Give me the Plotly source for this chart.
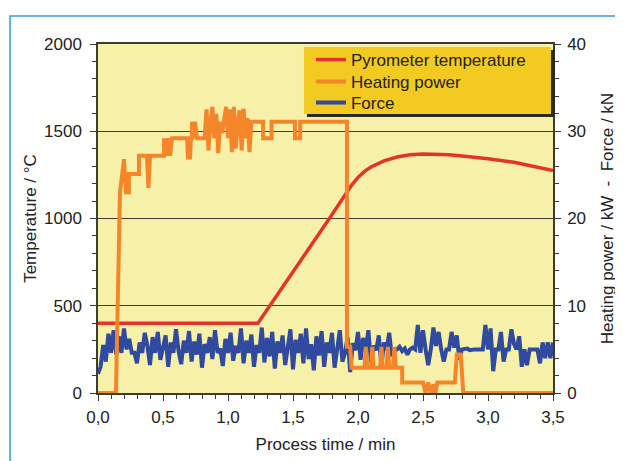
import plotly.graph_objects as go

# ---------------- data ----------------
# Pyrometer temperature (°C), left axis
temp_time = [0.0, 1.23, 1.78, 1.90, 1.95, 2.00, 2.05, 2.10, 2.20, 2.30, 2.40, 2.50,
             2.60, 2.70, 2.80, 3.00, 3.20, 3.40, 3.50]
temp_values = [400, 400, 1000, 1135, 1190, 1235, 1270, 1295, 1330, 1352, 1365, 1370,
               1369, 1365, 1358, 1343, 1322, 1292, 1275]

# Heating power (kW), right axis
power_time = [0.0, 0.138, 0.169, 0.20, 0.215, 0.238, 0.238, 0.315, 0.315, 0.377, 0.388, 0.40,
              0.508, 0.508, 0.523, 0.538, 0.554, 0.569, 0.685, 0.692, 0.708, 0.715, 0.723,
              0.723, 0.738, 0.746, 0.762, 0.82,
              0.835, 0.85, 0.865, 0.88, 0.895, 0.91, 0.925, 0.94, 0.955, 0.97, 0.985, 1.0,
              1.015, 1.03, 1.045, 1.06, 1.075, 1.09, 1.105, 1.12, 1.135, 1.15, 1.165, 1.18,
              1.27, 1.27, 1.335, 1.335, 1.515, 1.515, 1.555, 1.555, 1.915, 1.915, 1.94, 1.95,
              2.05, 2.06, 2.07, 2.10, 2.11, 2.12, 2.17, 2.18, 2.19, 2.22, 2.23, 2.24, 2.27,
              2.28, 2.29, 2.34, 2.34, 2.50, 2.52, 2.54, 2.56, 2.58, 2.595, 2.61, 2.745, 2.76,
              2.79, 2.81, 3.50]
power_values = [0, 0, 23.0, 26.8, 23.0, 23.0, 25.1, 25.1, 27.2, 27.2, 23.5, 27.2,
                27.2, 29.2, 27.2, 29.2, 27.2, 29.2, 29.2, 27.0, 27.0, 29.2, 29.2,
                31.1, 29.2, 31.1, 29.2, 29.2,
                32.5, 27.8, 31.1, 32.8, 29.2, 32.0, 27.5, 31.1, 29.8, 31.1, 32.8, 29.2,
                32.5, 27.6, 32.8, 28.0, 31.1, 32.4, 27.8, 32.6, 29.2, 31.5, 27.6, 31.1,
                31.1, 29.2, 29.2, 31.1, 31.1, 29.2, 29.2, 31.1, 31.1, 5.3, 5.3, 2.9,
                2.9, 5.3, 2.9, 2.9, 5.3, 2.9, 2.9, 5.3, 2.9, 2.9, 5.3, 2.9, 2.9,
                5.3, 2.9, 2.9, 1.2, 1.2, 0, 1.2, 0, 1.0, 0, 1.2, 1.2, 4.4,
                4.4, 0, 0]

# Force (kN), right axis, sampled every 0.02 min
force_step = 0.02
force_values = [
    2.2, 3.0, 5.5, 3.6, 6.8, 4.6, 7.2, 4.4, 6.5, 4.6,
    7.4, 5.0, 6.2, 4.6, 4.6, 3.4, 5.8, 4.6, 6.9, 5.4,
    3.2, 6.4, 4.6, 7.0, 3.8, 5.2, 6.6, 3.0, 5.8, 4.6,
    7.3, 4.8, 3.3, 6.0, 4.6, 7.1, 3.6, 5.9, 4.4, 6.8,
    2.9, 5.6, 4.6, 6.4, 3.9, 7.2, 4.6, 5.1, 3.1, 6.2,
    4.6, 6.9, 3.7, 5.4, 4.6, 7.4, 3.4, 6.0, 4.6, 6.7,
    3.0, 5.5, 4.6, 7.5, 3.5, 6.3, 4.2, 7.0, 2.8, 5.9,
    4.6, 6.6, 3.2, 5.2, 7.3, 2.7, 6.1, 4.6, 6.8, 3.4,
    7.4, 3.9, 5.6, 2.6, 6.5, 4.3, 7.1, 3.0, 5.8, 4.6,
    6.9, 2.9, 5.3, 7.2, 3.6, 4.6, 6.4, 2.4, 5.7, 4.9,
    7.0, 3.8, 6.3, 4.9, 7.2, 3.5, 5.4, 4.9, 6.6, 3.1,
    5.8, 4.9, 6.9, 4.2, 5.0, 5.0, 5.3, 4.8, 5.1, 4.4,
    5.0, 5.2, 5.0, 7.8, 4.6, 7.2, 5.0, 3.2, 5.0, 7.5,
    5.4, 7.0, 5.0, 3.6, 5.0, 5.0, 7.0, 5.2, 6.6, 3.8,
    5.0, 5.0, 5.1, 4.9, 5.0, 5.0, 5.0, 5.0, 5.0, 7.8,
    5.0, 7.4, 2.5, 5.0, 5.0, 7.0, 3.6, 5.0, 5.0, 7.3,
    5.6, 5.0, 6.5, 3.0, 5.0, 3.2, 5.0, 5.0, 5.0, 5.0,
    3.4, 5.8, 4.0, 5.8, 4.0, 5.8,
]
force_time = [round(i * force_step, 2) for i in range(len(force_values))]

# tick labels
x_tickvals = [0.0, 0.5, 1.0, 1.5, 2.0, 2.5, 3.0, 3.5]
x_ticktext = ["0,0", "0,5", "1,0", "1,5", "2,0", "2,5", "3,0", "3,5"]
y_tickvals = [0, 500, 1000, 1500, 2000]
y2_tickvals = [0, 10, 20, 30, 40]

series_names = ["Pyrometer temperature", "Heating power", "Force"]

# ---------------- styling ----------------
RED = "#E4332A"
ORANGE = "#F5852A"
BLUE = "#2F4A9E"
DARK = "#3C3C30"
PLOT_BG = "#F6F0A8"
LEGEND_BG = "#F2CA22"
FRAME = "#3A9AD9"
FONT = "Liberation Sans"
TXT = dict(family=FONT, size=17, color="#222")

fig = go.Figure()
fig.add_trace(go.Scatter(x=force_time, y=force_values, name=series_names[2], yaxis="y2",
                         mode="lines", line=dict(color=BLUE, width=4), legend="legend3"))
fig.add_trace(go.Scatter(x=power_time, y=power_values, name=series_names[1], yaxis="y2",
                         mode="lines", line=dict(color=ORANGE, width=4), legend="legend2"))
fig.add_trace(go.Scatter(x=temp_time, y=temp_values, name=series_names[0], yaxis="y",
                         mode="lines", line=dict(color=RED, width=3.5), legend="legend"))

common_axis = dict(showline=True, linecolor=DARK, linewidth=1.5, ticks="outside",
                   tickcolor=DARK, tickwidth=1.2, ticklen=6, zeroline=False, automargin=False,
                   tickfont=TXT)

legend_common = dict(xanchor="left", yanchor="middle", bgcolor="rgba(0,0,0,0)", borderwidth=0,
                     font=TXT)

fig.update_layout(
    width=623, height=461,
    margin=dict(l=90, r=78, t=36, b=76),
    paper_bgcolor="white", plot_bgcolor=PLOT_BG,
    font=TXT,
    xaxis=dict(range=[0, 3.5], tickvals=x_tickvals, ticktext=x_ticktext, showgrid=False,
               mirror=True, ticklabelstandoff=2,
               minor=dict(dtick=0.1, ticks="outside", ticklen=4, tickcolor=DARK, tickwidth=1.2),
               title=dict(text="Process time / min", standoff=12, font=TXT), **common_axis),
    yaxis=dict(range=[0, 2000], tickvals=y_tickvals, showgrid=True, gridcolor=DARK, gridwidth=1.2,
               ticklabelstandoff=5,
               minor=dict(dtick=100, ticks="outside", ticklen=4, tickcolor=DARK, tickwidth=1.2,
                          showgrid=False),
               title=dict(text="Temperature / °C", standoff=3, font=TXT), **common_axis),
    yaxis2=dict(range=[0, 40], tickvals=y2_tickvals, overlaying="y", side="right", showgrid=False,
                ticklabelstandoff=3,
                minor=dict(dtick=2, ticks="outside", ticklen=4, tickcolor=DARK, tickwidth=1.2),
                title=dict(text="Heating power / kW\u00a0\u00a0-\u00a0\u00a0Force / kN",
                           standoff=16, font=TXT),
                **common_axis),
    showlegend=True,
    legend=dict(x=0.468, y=0.954, **legend_common),
    legend2=dict(x=0.468, y=0.891, **legend_common),
    legend3=dict(x=0.468, y=0.831, **legend_common),
    shapes=[
        # outer frame
        dict(type="rect", xref="paper", yref="paper", x0=-0.1934, x1=1.4, y0=-0.4, y1=1.0802,
             line=dict(color=FRAME, width=1.5), fillcolor="rgba(0,0,0,0)", layer="above"),
        # legend shadow
        dict(type="rect", xref="paper", yref="paper", x0=0.4593, x1=1.0044, y0=0.7908, y1=0.9828,
             line=dict(width=0), fillcolor="#2A2A20", layer="above"),
        # legend box
        dict(type="rect", xref="paper", yref="paper", x0=0.4527, x1=0.9956, y0=0.7994, y1=0.9914,
             line=dict(width=0), fillcolor=LEGEND_BG, layer="above"),
    ],
)

fig.write_html("out.html")
